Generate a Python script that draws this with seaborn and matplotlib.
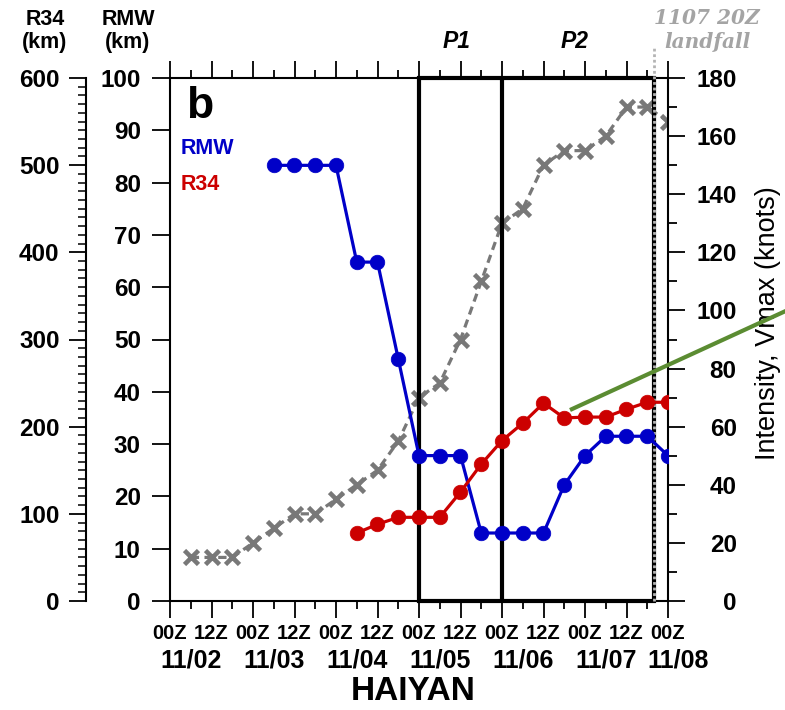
import matplotlib
matplotlib.use("Agg")
import matplotlib.pyplot as plt
import matplotlib.ticker as mticker
import matplotlib.transforms as mtransforms
from matplotlib.patches import Rectangle
from matplotlib.lines import Line2D
import seaborn as sns

# ---- data (hours since 2013-11-02 00Z) ----
rmw_hours = [30, 36, 42, 48, 54, 60, 66, 72, 78, 84, 90, 96, 102, 108, 114,
             120, 126, 132, 138, 144]
rmw_km = [83.3, 83.3, 83.3, 83.3, 64.8, 64.8, 46.3, 27.8, 27.8, 27.8, 13.0,
          13.0, 13.0, 13.0, 22.2, 27.8, 31.5, 31.5, 31.5, 27.8]

r34_hours = [54, 60, 66, 72, 78, 84, 90, 96, 102, 108, 114, 120, 126, 132,
             138, 144]
r34_km = [78, 88, 96, 96, 96, 125, 157, 184, 204, 227, 210, 211, 211, 220,
          228, 228]

vmax_hours = [6, 12, 18, 24, 30, 36, 42, 48, 54, 60, 66, 72, 78, 84, 90, 96,
              102, 108, 114, 120, 126, 132, 138, 144]
vmax_kt = [15, 15, 15, 20, 25, 30, 30, 35, 40, 45, 55, 70, 75, 90, 110, 130,
           135, 150, 155, 155, 160, 170, 170, 165]

tick_hours = [0, 12, 24, 36, 48, 60, 72, 84, 96, 108, 120, 132, 144]
tick_labels = ["00Z", "12Z", "00Z", "12Z", "00Z", "12Z", "00Z", "12Z", "00Z",
               "12Z", "00Z", "12Z", "00Z"]
date_labels = ["11/02", "11/03", "11/04", "11/05", "11/06", "11/07", "11/08"]
date_label_hours = [6, 30, 54, 78, 102, 126, 147]

period_names = ["P1", "P2"]
period_bounds = [72, 96, 140]
landfall_hour = 140
landfall_text = "1107 20Z\nlandfall"

rmw_ticks = [0, 10, 20, 30, 40, 50, 60, 70, 80, 90, 100]
r34_ticks = [0, 100, 200, 300, 400, 500, 600]
vmax_ticks = [0, 20, 40, 60, 80, 100, 120, 140, 160, 180]

BLUE = "#0000c8"
RED = "#cc0000"
GRAY = "#787878"
GREEN = "#5b8c32"

sns.set_theme(style="ticks")
plt.rcParams["font.family"] = ["Liberation Sans", "DejaVu Sans"]
plt.rcParams["axes.linewidth"] = 1.5
plt.rcParams["axes.edgecolor"] = "black"
plt.rcParams["text.color"] = "black"
plt.rcParams["axes.labelcolor"] = "black"
plt.rcParams["xtick.color"] = "black"
plt.rcParams["ytick.color"] = "black"

W_PX, H_PX = 785, 710
fig = plt.figure(figsize=(W_PX / 100, H_PX / 100), dpi=100)
fig.patch.set_facecolor("white")


def fx(px):
    return px / W_PX


def fy(py):
    return 1 - py / H_PX


left, right, top, bottom = 170, 668, 78, 601
ax_int = fig.add_axes([fx(left), fy(bottom), (right - left) / W_PX,
                       (bottom - top) / H_PX])
ax = ax_int.twinx()
ax_r34 = ax_int.twinx()

# ---- intensity (host axes, right scale) ----
sns.lineplot(x=vmax_hours, y=vmax_kt, ax=ax_int, color=GRAY, linewidth=2.3,
             linestyle=(0, (2.6, 1.7)), marker="x", markersize=9.5,
             markeredgewidth=3.3, markeredgecolor=GRAY, zorder=2)
ax_int.set_xlim(0, 144)
ax_int.set_ylim(0, 180)
ax_int.yaxis.tick_right()
ax_int.yaxis.set_label_position("right")
ax_int.set_yticks(vmax_ticks, [str(v) for v in vmax_ticks], ha="right",
                  fontweight="bold", fontsize=17.5)
ax_int.yaxis.set_minor_locator(mticker.MultipleLocator(10))
ax_int.tick_params(axis="y", which="major", direction="out", length=12.5,
                   width=1.3, pad=37, left=False, right=True)
ax_int.tick_params(axis="y", which="minor", direction="out", length=6.5,
                   width=1.3, left=False, right=True)
ax_int.set_xticks(tick_hours, tick_labels, fontweight="bold", fontsize=14.5)
ax_int.xaxis.set_minor_locator(mticker.MultipleLocator(6))
ax_int.tick_params(axis="x", which="major", direction="out", length=12.5,
                   width=1.3, pad=4, top=True, bottom=True, labeltop=False)
ax_int.tick_params(axis="x", which="minor", direction="out", length=6,
                   width=1.3, top=True, bottom=True)
ax_int.spines["left"].set_visible(False)
ax_int.set_xlabel("")
ax_int.set_ylabel("")
ax_int.text((768 - left) / (right - left), (bottom - 323) / (bottom - top),
            "Intensity, Vmax (knots)", transform=ax_int.transAxes,
            rotation=90, ha="center", va="center", fontsize=19.5)

# date labels below the hour labels
blend = mtransforms.blended_transform_factory(ax_int.transData, ax_int.transAxes)
for h, lab in zip(date_label_hours, date_labels):
    ax_int.text(h, -(661 - bottom) / (bottom - top), lab, transform=blend,
                ha="center", va="center", fontsize=18, fontweight="bold")
ax_int.text((413 - left) / (right - left), -(692 - bottom) / (bottom - top),
            "HAIYAN", transform=ax_int.transAxes, ha="center", va="center",
            fontsize=24, fontweight="bold")

# ---- RMW (left scale) ----
ax.set_ylim(0, 100)
ax.yaxis.tick_left()
ax.yaxis.set_label_position("left")
ax.set_yticks(rmw_ticks, [str(v) for v in rmw_ticks], fontweight="bold",
              fontsize=17.5)
ax.tick_params(axis="y", which="major", direction="out", length=13, width=1.3,
               pad=8, left=True, right=False)
for s in ["right", "top", "bottom"]:
    ax.spines[s].set_visible(False)

# analysis periods box
box = Rectangle((period_bounds[0], 0), period_bounds[2] - period_bounds[0], 100,
                fill=False, edgecolor="black", linewidth=3, clip_on=False,
                zorder=1)
ax.add_patch(box)
ax.plot([period_bounds[1]] * 2, [0, 100], color="black", linewidth=3,
        zorder=1)
ax.plot([landfall_hour] * 2, [0, 106], color="#b4b4b4", linewidth=2,
        linestyle=(0, (1, 1)), clip_on=False, zorder=1.5)

sns.lineplot(x=rmw_hours, y=rmw_km, ax=ax, color=BLUE, linewidth=2.3,
             marker="o", markersize=10.5, markeredgewidth=0.5,
             markeredgecolor=BLUE, zorder=3)
ax.set_xlabel("")
ax.set_ylabel("")

# ---- R34 (outer left scale) ----
sns.lineplot(x=r34_hours, y=r34_km, ax=ax_r34, color=RED, linewidth=2.3,
             marker="o", markersize=10.5, markeredgewidth=0.5,
             markeredgecolor=RED, zorder=3)
ax_r34.set_ylim(0, 600)
ax_r34.set_xlim(0, 144)
ax_r34.yaxis.tick_left()
ax_r34.yaxis.set_label_position("left")
ax_r34.spines["left"].set_position(("axes", (86 - left) / (right - left)))
for s in ["right", "top", "bottom"]:
    ax_r34.spines[s].set_visible(False)
ax_r34.set_yticks(r34_ticks, [str(v) for v in r34_ticks], fontweight="bold",
                  fontsize=17.5)
ax_r34.yaxis.set_minor_locator(mticker.MultipleLocator(10))
ax_r34.tick_params(axis="y", which="major", direction="out", length=12.5,
                   width=1.3, pad=6.5, left=True, right=False)
ax_r34.tick_params(axis="y", which="minor", direction="out", length=6,
                   width=1.1, left=True, right=False)
ax_r34.set_xlabel("")
ax_r34.set_ylabel("")

# ---- annotations ----
fig.text(fx(45), fy(31), "R34\n(km)", ha="center", va="center", fontsize=15.5,
         fontweight="bold", linespacing=1.15)
fig.text(fx(128), fy(31), "RMW\n(km)", ha="center", va="center", fontsize=15.5,
         fontweight="bold", linespacing=1.15)
fig.text(fx(186), fy(106), "b", ha="left", va="center", fontsize=32,
         fontweight="bold")
fig.text(fx(181), fy(149), "RMW", ha="left", va="center", fontsize=15.5,
         fontweight="bold", color=BLUE)
fig.text(fx(181), fy(185), "R34", ha="left", va="center", fontsize=15.5,
         fontweight="bold", color=RED)
period_tf = mtransforms.blended_transform_factory(ax.transData, ax.transAxes)
for name, a, b in zip(period_names, period_bounds[:-1], period_bounds[1:]):
    ax.text((a + b) / 2 - 1, 1.07, name, transform=period_tf, ha="center",
            va="center", fontsize=16.5, fontweight="bold", fontstyle="italic")
fig.text(fx(707), fy(30), landfall_text, ha="center", va="center", fontsize=14.5,
         family="DejaVu Serif", fontweight="bold", fontstyle="italic",
         color="#a4a4a4", linespacing=1.2)

fig.add_artist(Line2D([fx(570), fx(790)], [fy(410), fy(309)], color=GREEN,
                      linewidth=3, solid_capstyle="butt", zorder=10))

fig.savefig("out.png", dpi=100, facecolor="white")
